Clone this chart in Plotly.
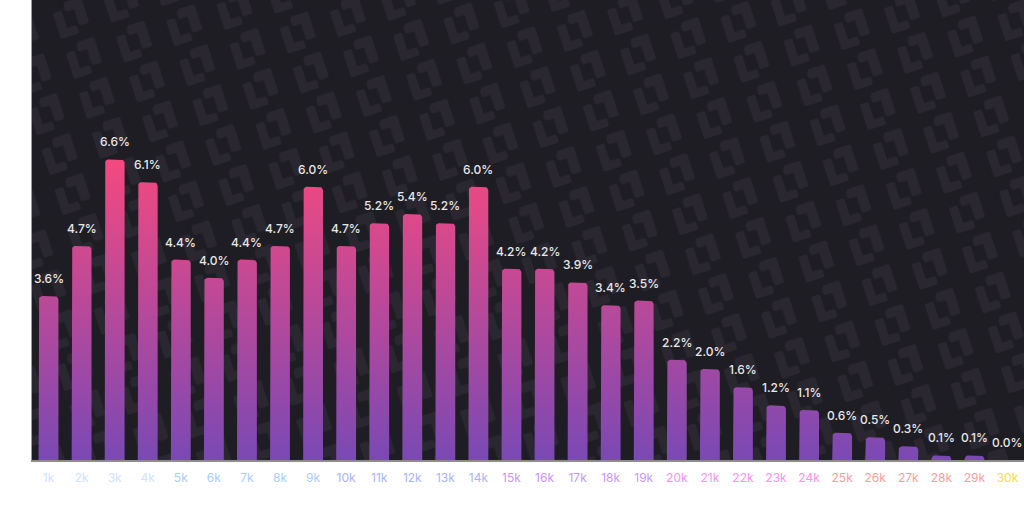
import base64
import math
import plotly.graph_objects as go

# ---- data ----
categories = ["1k", "2k", "3k", "4k", "5k", "6k", "7k", "8k", "9k", "10k",
              "11k", "12k", "13k", "14k", "15k", "16k", "17k", "18k", "19k", "20k",
              "21k", "22k", "23k", "24k", "25k", "26k", "27k", "28k", "29k", "30k"]
values = [3.6, 4.7, 6.6, 6.1, 4.4, 4.0, 4.4, 4.7, 6.0, 4.7,
          5.2, 5.4, 5.2, 6.0, 4.2, 4.2, 3.9, 3.4, 3.5, 2.2,
          2.0, 1.6, 1.2, 1.1, 0.6, 0.5, 0.3, 0.1, 0.1, 0.0]
tick_colors = (["#cfe1ff"] * 4 + ["#a8ccff"] * 5 + ["#aab2ff"] * 5 +
               ["#c993ff"] * 5 + ["#ff8ef6"] * 5 + ["#ff9b9b"] * 5 + ["#ffd84a"])

# ---- layout constants ----
W, H = 1024, 512
ML, MR, MT, MB = 32, 0, 0, 52
YMAX = 10.1
PW, PH = W - ML - MR, H - MT - MB
n = len(categories)
px_x = PW / n
px_y = PH / YMAX
HALF = 0.30
RADIUS = 4

# ---- bar polygons with rounded tops (data coords) ----
xs, ys = [], []
for i, v in enumerate(values):
    if v <= 0:
        continue
    rx = RADIUS / px_x
    ry = RADIUS / px_y
    if ry > v:
        ry = v
    l, r = i - HALF, i + HALF
    pts = [(l, 0), (l, v - ry)]
    for k in range(1, 7):
        a = math.pi - k * (math.pi / 2) / 6
        pts.append((l + rx + rx * math.cos(a), v - ry + ry * math.sin(a)))
    for k in range(0, 7):
        a = math.pi / 2 - k * (math.pi / 2) / 6
        pts.append((r - rx + rx * math.cos(a), v - ry + ry * math.sin(a)))
    pts.append((r, 0))
    pts.append((l, 0))
    for p in pts:
        xs.append(p[0]); ys.append(p[1])
    xs.append(None); ys.append(None)

fig = go.Figure()
fig.add_trace(go.Scatter(
    x=xs, y=ys, mode="lines", fill="toself",
    line=dict(width=0, color="rgba(0,0,0,0)"),
    fillgradient=dict(type="vertical",
                      colorscale=[[0, "#7a49b4"], [1, "#f4497f"]],
                      start=0, stop=max(values)),
    hoverinfo="skip", showlegend=False,
))

for i, v in enumerate(values):
    fig.add_annotation(x=i, y=v, text=f"{v:.1f}%", showarrow=False,
                       yanchor="bottom", yshift=8,
                       font=dict(family="Inter", size=12, color="#e8e8ea", weight=500))

# ---- background pattern (decorative) ----
logo = ('<path d="M2,3 h6 a1.5,1.5 0 0 1 1.5,1.5 v14 h7 a1.5,1.5 0 0 1 1.5,1.5 v4 '
        'a1.5,1.5 0 0 1 -1.5,1.5 h-13 a1.5,1.5 0 0 1 -1.5,-1.5 v-19.5 a1.5,1.5 0 0 1 1.5,-1.5 z" />'
        '<path d="M14,-3 h13 a1.5,1.5 0 0 1 1.5,1.5 v19.5 a1.5,1.5 0 0 1 -1.5,1.5 h-5.5 '
        'a1.5,1.5 0 0 1 -1.5,-1.5 v-13 h-6 a1.5,1.5 0 0 1 -1.5,-1.5 v-3.5 a1.5,1.5 0 0 1 1.5,-1.5 z" />')
svg = (f'<svg xmlns="http://www.w3.org/2000/svg" width="{PW}" height="{PH}" '
       f'viewBox="0 0 {PW} {PH}" preserveAspectRatio="none">'
       '<defs><pattern id="p" width="44" height="35" patternUnits="userSpaceOnUse" '
       'patternTransform="rotate(-18) scale(1.2) translate(4,6)">'
       f'<g fill="#2a2731" transform="translate(7,7)">{logo}</g>'
       '</pattern></defs>'
       f'<rect width="{PW}" height="{PH}" fill="#1e1d23"/>'
       f'<rect width="{PW}" height="{PH}" fill="url(#p)"/>'
       '</svg>')
src = "data:image/svg+xml;base64," + base64.b64encode(svg.encode()).decode()
fig.add_layout_image(dict(source=src, xref="paper", yref="paper", x=0, y=1,
                          sizex=1, sizey=1, sizing="stretch", layer="below",
                          xanchor="left", yanchor="top"))

ticktext = [f"<span style='color:{c}'>{t}</span>" for t, c in zip(categories, tick_colors)]

fig.update_layout(
    width=W, height=H,
    margin=dict(l=ML, r=MR, t=MT, b=MB, pad=0),
    paper_bgcolor="#ffffff",
    plot_bgcolor="#1e1d23",
    showlegend=False,
    xaxis=dict(range=[-0.5, n - 0.5], tickmode="array",
               tickvals=list(range(n)), ticktext=ticktext,
               showgrid=False, zeroline=False, showline=True,
               linecolor="#8c8c8c", linewidth=1.5, ticks="",
               ticklabelstandoff=6,
               tickfont=dict(family="Inter", size=12), fixedrange=True),
    yaxis=dict(range=[0, YMAX], showgrid=False, zeroline=False,
               showticklabels=False, showline=True, linecolor="#9a9a9a",
               linewidth=1, ticks="", fixedrange=True),
)

fig.write_html("out.html")
